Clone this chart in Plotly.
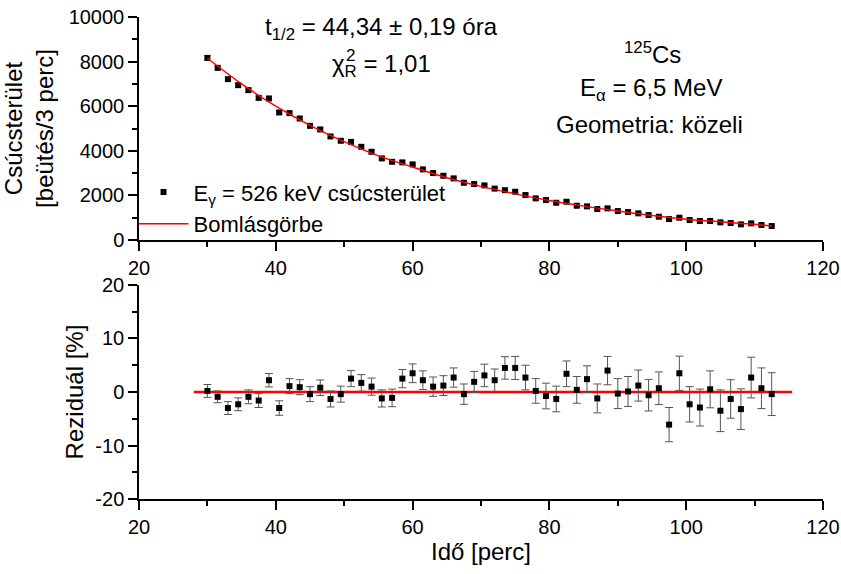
import plotly.graph_objects as go

# ---- data ----
time = [30, 31.5, 33, 34.5, 36, 37.5, 39, 40.5, 42, 43.5, 45, 46.5, 48, 49.5,
        51, 52.5, 54, 55.5, 57, 58.5, 60, 61.5, 63, 64.5, 66, 67.5, 69, 70.5,
        72, 73.5, 75, 76.5, 78, 79.5, 81, 82.5, 84, 85.5, 87, 88.5, 90, 91.5,
        93, 94.5, 96, 97.5, 99, 100.5, 102, 103.5, 105, 106.5, 108, 109.5, 111, 112.5]

counts = [8167, 7720, 7213, 6944, 6720, 6375, 6348, 5720, 5690, 5450, 5120, 4958, 4645, 4450,
          4400, 4180, 3956, 3660, 3508, 3481, 3391, 3167, 3002, 2881, 2764, 2567, 2509, 2450,
          2305, 2235, 2164, 2016, 1868, 1792, 1671, 1716, 1537, 1510, 1389, 1420, 1299, 1254,
          1196, 1120, 1045, 941, 1000, 896, 851, 851, 792, 762, 702, 747, 672, 627]

counts_err = [95, 90, 88, 85, 84, 82, 82, 78, 78, 76, 74, 72, 70, 68,
              68, 66, 65, 62, 61, 61, 60, 58, 57, 56, 55, 53, 52, 52,
              50, 49, 48, 47, 45, 44, 43, 43, 41, 41, 39, 39, 38, 37,
              36, 35, 34, 32, 33, 31, 30, 30, 29, 29, 28, 28, 27, 26]

fit_x = [30, 35, 40, 45, 50, 55, 60, 65, 70, 75, 80, 85, 90, 95, 100, 105, 110, 112.5]
fit_y = [8150, 7000, 6000, 5140, 4410, 3775, 3276, 2795, 2405, 2070, 1770, 1520, 1305, 1100,
         935, 815, 707, 630]

resid = [0.2, -0.9, -3.0, -2.3, -0.9, -1.6, 2.2, -3.0, 1.1, 0.9, -0.4, 0.8, -1.3, -0.4,
         2.5, 1.7, 1.0, -1.2, -1.1, 2.5, 3.5, 2.2, 1.0, 1.2, 2.7, -0.4, 1.9, 3.1,
         2.2, 4.5, 4.5, 2.7, 0.2, -0.75, -1.3, 3.4, 0.4, 2.4, -1.2, 4.0, -0.3, 0.1,
         1.2, -0.6, 0.7, -6.1, 3.5, -2.3, -2.9, 0.5, -3.5, -1.3, -3.2, 2.7, 0.7, -0.4]

resid_err = [1.2, 1.1, 1.2, 1.2, 1.3, 1.3, 1.25, 1.35, 1.4, 1.4,
             1.4, 1.45, 1.5, 1.5, 1.5, 1.55, 1.6, 1.6, 1.65, 1.7,
             1.75, 1.75, 1.8, 1.85, 1.8, 1.9, 1.95, 2.1, 2.1, 2.1,
             2.15, 2.3, 2.3, 2.4, 2.4, 2.4, 2.5, 2.5, 2.7, 2.65,
             2.8, 2.8, 2.9, 2.95, 3.05, 3.2, 3.2, 3.3, 3.45, 3.45,
             3.9, 3.6, 3.8, 3.8, 3.8, 4.0]

zero_x = [28, 115.5]
zero_y = [0, 0]

# tick labels
x_ticks = [20, 40, 60, 80, 100, 120]
x_ticktext = ["20", "40", "60", "80", "100", "120"]
y1_ticks = [0, 2000, 4000, 6000, 8000, 10000]
y1_ticktext = ["0", "2000", "4000", "6000", "8000", "10000"]
y2_ticks = [-20, -10, 0, 10, 20]
y2_ticktext = ["-20", "-10", "0", "10", "20"]

FONT = "Liberation Sans, Arial, sans-serif"

fig = go.Figure()
fig.add_trace(go.Scatter(
    x=time, y=counts, mode="markers", name="E<sub>γ</sub> = 526 keV csúcsterület",
    legendgroup="a",
    marker=dict(symbol="square", size=6, color="black"),
    error_y=dict(type="data", array=counts_err, color="#333333", thickness=1, width=3),
    xaxis="x", yaxis="y"))
fig.add_trace(go.Scatter(
    x=fit_x, y=fit_y, mode="lines", name="Bomlásgörbe", legendgroup="b",
    line=dict(color="#ff0000", width=1.5, shape="spline"),
    xaxis="x", yaxis="y"))
fig.add_trace(go.Scatter(
    x=zero_x, y=zero_y, mode="lines", showlegend=False,
    line=dict(color="#ff0000", width=2.6), xaxis="x2", yaxis="y2"))
fig.add_trace(go.Scatter(
    x=time, y=resid, mode="markers", showlegend=False,
    marker=dict(symbol="square", size=6, color="black"),
    error_y=dict(type="data", array=resid_err, color="#555555", thickness=1, width=4),
    xaxis="x2", yaxis="y2"))

TICKFONT = dict(family=FONT, size=20, color="black")
TITLEFONT = dict(family=FONT, size=24, color="black")
axis_common = dict(showline=True, linecolor="black", linewidth=1.5, ticks="outside",
                   ticklen=9, tickwidth=1.5, tickcolor="black", showgrid=False,
                   zeroline=False, tickfont=TICKFONT, automargin=False,
                   ticklabeloverflow="allow")
minor_common = dict(ticklen=5, ticks="outside", tickwidth=1.5, tickcolor="black")

fig.update_layout(
    width=841, height=574,
    margin=dict(l=139, r=18, t=17, b=75),
    paper_bgcolor="white", plot_bgcolor="white",
    font=dict(family=FONT, size=20, color="black"),
    xaxis=dict(domain=[0, 1], anchor="y", range=[20, 120],
               tickmode="array", tickvals=x_ticks, ticktext=x_ticktext,
               minor=dict(dtick=10, tick0=20, **minor_common), **axis_common),
    yaxis=dict(domain=[0.5373, 1], anchor="x", range=[0, 10000],
               tickmode="array", tickvals=y1_ticks, ticktext=y1_ticktext,
               minor=dict(dtick=1000, tick0=0, **minor_common),
               title=dict(text="Csúcsterület<br>[beütés/3 perc]", font=TITLEFONT, standoff=8),
               **axis_common),
    xaxis2=dict(domain=[0, 1], anchor="y2", range=[20, 120],
                tickmode="array", tickvals=x_ticks, ticktext=x_ticktext,
                minor=dict(dtick=10, tick0=20, **minor_common),
                title=dict(text="Idő [perc]", font=TITLEFONT, standoff=6),
                **axis_common),
    yaxis2=dict(domain=[0, 0.444], anchor="x2", range=[-20, 20],
                tickmode="array", tickvals=y2_ticks, ticktext=y2_ticktext,
                minor=dict(dtick=5, tick0=-20, **minor_common),
                title=dict(text="Reziduál [%]", font=TITLEFONT, standoff=5),
                **axis_common),
    legend=dict(x=-0.008, y=0.68, xanchor="left", yanchor="top", bgcolor="rgba(0,0,0,0)",
                font=dict(family=FONT, size=22), itemwidth=50, tracegroupgap=0),
    showlegend=True,
)

annots = [
    ("t<sub>1/2</sub> = 44,34 ± 0,19 óra", 0.355, 0.977, 24),
    ("χ<sub>R</sub> = 1,01", 0.355, 0.900, 24),
    ("2", 0.309, 0.921, 17),
    ("<sup>125</sup>Cs", 0.751, 0.925, 24),
    ("E<sub>α</sub> = 6,5 MeV", 0.749, 0.849, 24),
    ("Geometria: közeli", 0.747, 0.778, 24),
]
for text, ax, ay, fs in annots:
    fig.add_annotation(text=text, x=ax, y=ay, xref="paper", yref="paper",
                       xanchor="center", yanchor="middle", showarrow=False,
                       font=dict(family=FONT, size=fs, color="black"))

# remove the default 8 px page margin so the figure fills the window exactly
fig.write_html("out.html", config={"displayModeBar": False},
               post_script="document.body.style.margin='0';document.body.style.overflow='hidden';")
